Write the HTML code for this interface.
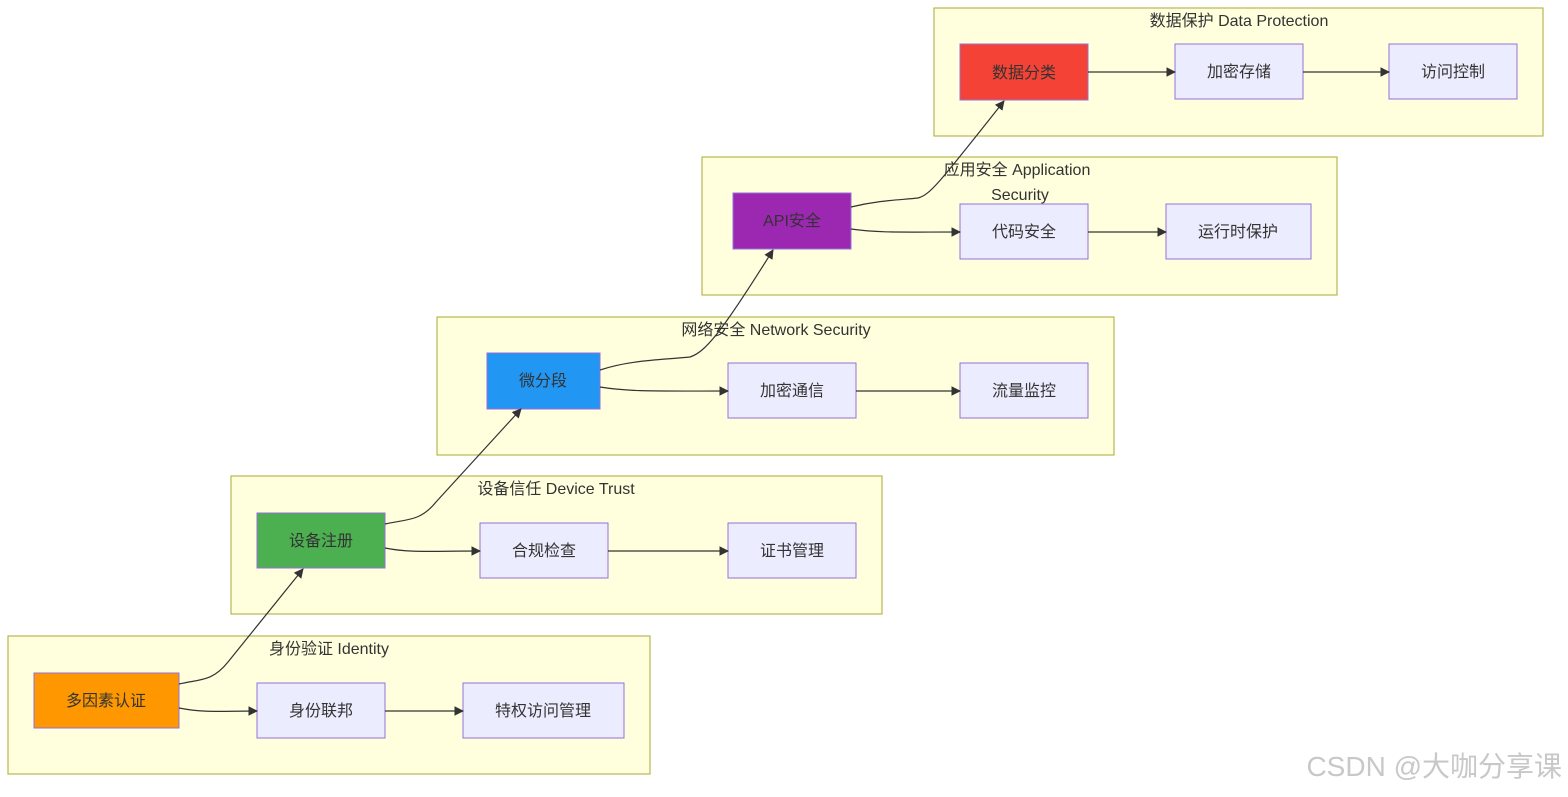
<!DOCTYPE html>
<html><head><meta charset="utf-8"><style>
body{margin:0;background:#fff;width:1568px;height:792px;overflow:hidden}
text{font-family:"Liberation Sans","Noto Sans CJK SC",sans-serif;font-size:16px;fill:#333}
.c{fill:#ffffde;stroke:#aaaa33;stroke-width:1}
.n{fill:#ECECFF;stroke:#9370DB;stroke-width:1}
.e{fill:none;stroke:#333;stroke-width:1.2;marker-end:url(#a)}
</style></head><body>
<svg width="1568" height="792" viewBox="0 0 1568 792">
<defs><marker id="a" viewBox="0 0 10 10" refX="9" refY="5" markerWidth="8" markerHeight="8" orient="auto"><path d="M0,0L10,5L0,10z" fill="#333"/></marker></defs>
<rect class="c" x="8" y="636" width="642" height="138"/>
<rect class="c" x="231" y="476" width="651" height="138"/>
<rect class="c" x="437" y="317" width="677" height="138"/>
<rect class="c" x="702" y="157" width="635" height="138"/>
<rect class="c" x="934" y="8" width="609" height="128"/>
<g text-anchor="middle">
<text x="329" y="654">身份验证 Identity</text>
<text x="556" y="494">设备信任 Device Trust</text>
<text x="776" y="335">网络安全 Network Security</text>
<text x="1017" y="175">应用安全 Application</text>
<text x="1020" y="200">Security</text>
<text x="1239" y="26">数据保护 Data Protection</text>
</g>
<rect x="34" y="673" width="145" height="55" fill="#FF9800" stroke="#9370DB"/>
<rect class="n" x="257" y="683" width="128" height="55"/>
<rect class="n" x="463" y="683" width="161" height="55"/>
<rect x="257" y="513" width="128" height="55" fill="#4CAF50" stroke="#9370DB"/>
<rect class="n" x="480" y="523" width="128" height="55"/>
<rect class="n" x="728" y="523" width="128" height="55"/>
<rect x="487" y="353" width="113" height="56" fill="#2196F3" stroke="#9370DB"/>
<rect class="n" x="728" y="363" width="128" height="55"/>
<rect class="n" x="960" y="363" width="128" height="55"/>
<rect x="733" y="193" width="118" height="56" fill="#9C27B0" stroke="#9370DB"/>
<rect class="n" x="960" y="204" width="128" height="55"/>
<rect class="n" x="1166" y="204" width="145" height="55"/>
<rect x="960" y="44" width="128" height="56" fill="#F44336" stroke="#9370DB"/>
<rect class="n" x="1175" y="44" width="128" height="55"/>
<rect class="n" x="1389" y="44" width="128" height="55"/>
<g text-anchor="middle">
<text x="106" y="706">多因素认证</text>
<text x="321" y="716">身份联邦</text>
<text x="543" y="716">特权访问管理</text>
<text x="321" y="546">设备注册</text>
<text x="544" y="556">合规检查</text>
<text x="792" y="556">证书管理</text>
<text x="543" y="386">微分段</text>
<text x="792" y="396">加密通信</text>
<text x="1024" y="396">流量监控</text>
<text x="792" y="226">API安全</text>
<text x="1024" y="237">代码安全</text>
<text x="1238" y="237">运行时保护</text>
<text x="1024" y="78">数据分类</text>
<text x="1239" y="77">加密存储</text>
<text x="1453" y="77">访问控制</text>
</g>
<path class="e" d="M179,684 C200,679 212,682 228,662 L303,569"/>
<path class="e" d="M179,708 C205,713 220,711 257,711"/>
<path class="e" d="M385,711 L463,711"/>
<path class="e" d="M385,524 C406,519 420,522 436,502 L521,409"/>
<path class="e" d="M385,548 C410,553 430,551 480,551"/>
<path class="e" d="M608,551 L728,551"/>
<path class="e" d="M600,370 C630,360 660,360 690,357 C705,352 720,335 773,250"/>
<path class="e" d="M600,387 C630,392 660,391 728,391"/>
<path class="e" d="M856,391 L960,391"/>
<path class="e" d="M851,207 C880,200 900,200 918,198 C930,195 940,182 1004,101"/>
<path class="e" d="M851,229 C880,233 900,232 960,232"/>
<path class="e" d="M1088,232 L1166,232"/>
<path class="e" d="M1088,72 L1175,72"/>
<path class="e" d="M1303,72 L1389,72"/>
<text x="1562" y="776" text-anchor="end" style="font-size:28px;fill:#c8c8c8">CSDN @大咖分享课</text>
</svg>
</body></html>
